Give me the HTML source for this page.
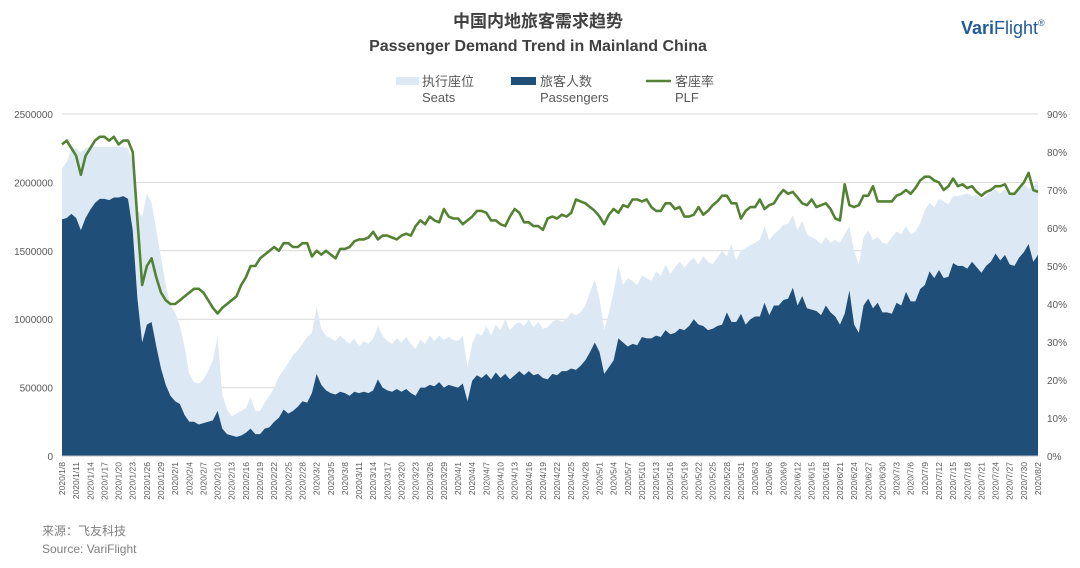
<!DOCTYPE html>
<html><head><meta charset="utf-8">
<style>
body{margin:0;background:#fff;width:1080px;height:563px;overflow:hidden;font-family:"Liberation Sans","Noto Sans CJK SC",sans-serif}
svg text{font-family:"Liberation Sans","Noto Sans CJK SC",sans-serif}
</style></head>
<body>
<svg id="chart" width="1080" height="563" xmlns="http://www.w3.org/2000/svg">
<text x="538" y="27" text-anchor="middle" font-size="17" font-weight="bold" fill="#404040">中国内地旅客需求趋势</text>
<text x="538" y="51" text-anchor="middle" font-size="16" font-weight="bold" fill="#404040">Passenger Demand Trend in Mainland China</text>
<text x="961" y="34" font-size="18" fill="#1f5a9a"><tspan font-weight="bold">Vari</tspan><tspan>Flight</tspan><tspan font-size="9" dy="-8">®</tspan></text>
<g>
<rect x="396" y="77" width="23" height="8" fill="#dce9f5"/>
<text x="422" y="86" font-size="13" fill="#595959">执行座位</text>
<text x="422" y="102" font-size="13" fill="#595959">Seats</text>
<rect x="511" y="77" width="25" height="8" fill="#1f4e79"/>
<text x="540" y="86" font-size="13" fill="#595959">旅客人数</text>
<text x="540" y="102" font-size="13" fill="#595959">Passengers</text>
<line x1="646" y1="81" x2="671" y2="81" stroke="#548235" stroke-width="2.5"/>
<text x="675" y="86" font-size="13" fill="#595959">客座率</text>
<text x="675" y="102" font-size="13" fill="#595959">PLF</text>
</g>
<g id="grid"></g><g id="areas"></g><g id="line"></g><g id="axes"></g>
<text x="42" y="535" font-size="12" fill="#7f7f7f">来源：飞友科技</text>
<text x="42" y="553" font-size="12" fill="#7f7f7f">Source: VariFlight</text>
</svg>
<script>
// values in thousands, daily from 2020/1/8 to 2020/8/2
const seats = [
2100,2150,2240,2250,2220,2250,2260,2260,2260,2260,2260,2260,2260,2260,2250,2150,1800,1750,1920,1850,1650,1450,1250,1100,
1050,950,800,600,540,530,560,620,700,870,450,340,290,310,330,350,430,330,330,390,440,500,580,630,680,740,770,820,870,
900,1090,930,880,860,840,880,850,820,860,800,840,820,860,950,880,840,820,860,830,870,820,780,850,820,880,840,880,850,870,850,
840,880,650,820,900,880,950,880,960,920,1000,920,960,980,950,1000,940,980,930,940,980,1000,980,1000,1050,1030,1050,1100,1200,1290,
1150,920,1050,1200,1390,1250,1300,1280,1250,1320,1300,1280,1350,1320,1400,1330,1380,1420,1380,1420,1450,1400,1460,1420,1400,1450,1500,1460,1550,1430,1500,
1520,1540,1560,1580,1680,1580,1620,1650,1690,1700,1760,1650,1720,1620,1600,1580,1550,1600,1560,1580,1560,1620,1680,1500,1400,1600,1650,1580,1600,1560,
1550,1600,1640,1620,1680,1620,1640,1700,1800,1850,1820,1880,1860,1840,1900,1900,1910,1920,1900,1910,1880,1900,1930,1950,1920,1950,1900,1920,1960,1990,1950,
1970,2000];
const passengers = [
1730,1740,1770,1740,1650,1740,1800,1850,1880,1880,1870,1890,1890,1900,1880,1650,1150,830,960,980,800,640,520,440,
400,380,300,250,250,230,240,250,260,330,200,160,150,140,150,170,200,160,160,200,210,250,280,340,310,330,360,400,390,
460,600,520,480,460,450,470,460,440,470,460,470,460,480,560,500,480,470,490,470,490,460,440,500,500,520,510,540,500,520,510,
500,530,400,550,590,570,600,560,610,570,600,560,590,620,590,620,590,600,570,560,600,590,620,620,640,630,660,700,760,830,
760,600,650,700,860,830,800,820,810,870,860,860,880,870,920,890,900,930,920,950,1000,960,950,920,930,950,960,1050,980,980,1040,
960,1000,1020,1020,1120,1030,1100,1100,1140,1150,1230,1100,1170,1080,1070,1060,1030,1100,1050,1020,960,1040,1210,960,900,1100,1150,1080,1120,1050,
1050,1040,1120,1100,1200,1130,1130,1220,1250,1350,1300,1360,1300,1310,1410,1390,1390,1370,1420,1380,1340,1390,1420,1480,1430,1470,1400,1390,1450,1490,1550,
1420,1470];
const plf = [
82,83,81,79,74,79,81,83,84,84,83,84,82,83,83,80,62,45,50,52,47,43,41,40,
40,41,42,43,44,44,43,41,39,37.5,39,40,41,42,45,47,50,50,52,53,54,55,54,56,56,55,55,56,56,
52.5,54,53,54,53,52,54.5,54.5,55,56.5,57,57,57.5,59,57,58,58,57.5,57,58,58.5,58,60.5,62,61,63,62,61.5,65,63,62.5,
62.5,61,62,63,64.5,64.5,64,62,62,61,60.5,63,65,64,61.5,61.5,60.5,60.5,59.5,62.5,63,62.5,63.5,63,64,67.5,67,66.5,65.5,64.5,
63,61,63.5,65,64,66,65.5,67.5,67.5,67,67.5,65.5,64.5,64.5,66.5,66.5,65,65.5,63,63,63.5,65.5,63.5,64.5,66,67,68.5,68.5,66.5,66.5,62.5,
64.5,65.5,65.5,67.5,65,66,66.5,68.5,70,69,69.5,68,66.5,66,67.5,65.5,66,66.5,65,62.5,62,71.5,66,65.5,66,68.5,68.5,71,67,67,
67,67,68.5,69,70,69,70.5,72.5,73.5,73.5,72.5,72,70,71,73,71,71.5,70.5,71,69.5,68.5,69.5,70,71,71,71.5,69,69,70.5,72,74.5,
70,69.5];
const leftTicks = [0,500000,1000000,1500000,2000000,2500000];
const rightTicks = [0,10,20,30,40,50,60,70,80,90];
const startDate = [2020,1,8];

const NS="http://www.w3.org/2000/svg";
const X0=62,X1=1038,Y0=456,Y1=114;
const n=seats.length;
function xs(i){return X0+(X1-X0)*i/(n-1);}
function yl(v){return Y0-(Y0-Y1)*v/2500000;}
function yr(p){return Y0-(Y0-Y1)*p/90;}
function mk(tag,attrs,parent){const e=document.createElementNS(NS,tag);for(const k in attrs)e.setAttribute(k,attrs[k]);parent.appendChild(e);return e;}
const grid=document.getElementById('grid'),areas=document.getElementById('areas'),lineG=document.getElementById('line'),axes=document.getElementById('axes');
leftTicks.forEach(t=>{
 if(t>0){const g=mk('line',{x1:X0,x2:X1,y1:yl(t),y2:yl(t),stroke:'#d9d9d9','stroke-width':1},grid);
 
 }
 const lb=mk('text',{x:53,y:yl(t)+4,'text-anchor':'end','font-size':10,fill:'#595959'},axes);
 lb.textContent=String(t);
 
 
});
rightTicks.forEach(t=>{
 const lb=mk('text',{x:1047,y:yr(t)+4,'font-size':10,fill:'#595959'},axes);
 lb.textContent=t+'%';
 
 
});
function areaPath(arr){let d='M'+xs(0)+','+Y0;arr.forEach((v,i)=>{d+=' L'+xs(i).toFixed(2)+','+yl(v*1000).toFixed(2);});return d+' L'+xs(n-1)+','+Y0+' Z';}
const sa=mk('path',{d:areaPath(seats),fill:'#dce9f5'},areas);


const pa=mk('path',{d:areaPath(passengers),fill:'#1f4e79'},areas);


let ld='';plf.forEach((p,i)=>{ld+=(i?' L':'M')+xs(i).toFixed(2)+','+yr(p).toFixed(2);});
const pl=mk('path',{d:ld,fill:'none',stroke:'#548235','stroke-width':2.6,'stroke-linejoin':'round'},lineG);


const ax=mk('line',{x1:X0,x2:X1,y1:Y0,y2:Y0,stroke:'#bfbfbf'},axes);


const d0=new Date(startDate[0],startDate[1]-1,startDate[2]);
for(let i=0;i<n;i+=3){
 const d=new Date(d0.getTime()+i*86400000);
 const s=d.getFullYear()+'/'+(d.getMonth()+1)+'/'+d.getDate();
 const x=xs(i)+3;
 const t=mk('text',{x:x,y:462,'text-anchor':'end','font-size':8.5,fill:'#595959',transform:'rotate(-90 '+x+' 462)'},axes);
 t.textContent=s;
 
 
}
</script>
</body></html>
